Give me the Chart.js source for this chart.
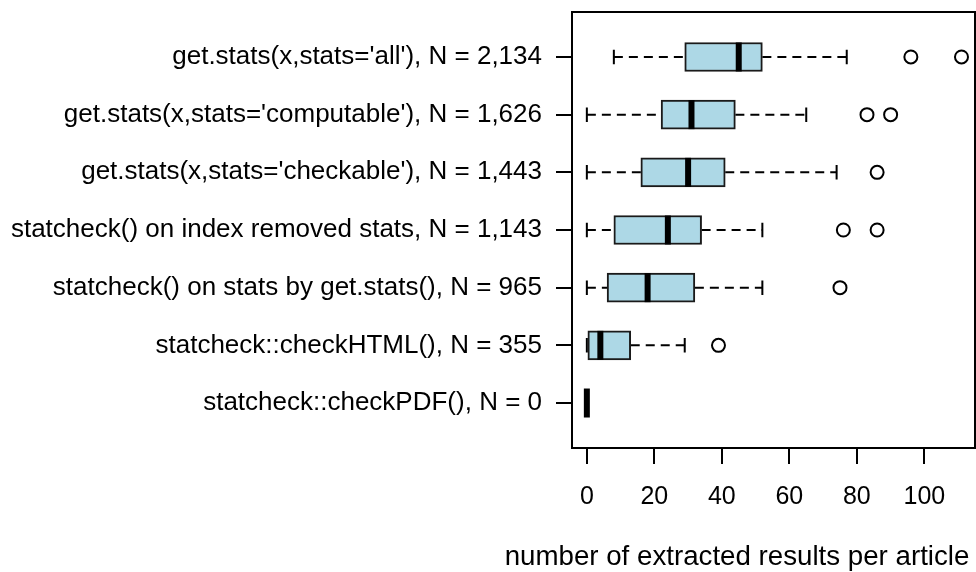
<!DOCTYPE html>
<html>
<head>
<meta charset="utf-8">
<script src="https://cdn.jsdelivr.net/npm/chart.js@4"></script>
<style>
  html, body { margin: 0; padding: 0; background: #fff; }
  #wrap { width: 976px; height: 572px; }
</style>
</head>
<body>
<div id="wrap"><canvas id="myChart" width="976" height="572"></canvas></div>
<script>
// rows, top to bottom
let labels = [
    "get.stats(x,stats='all'), N = 2,134",
    "get.stats(x,stats='computable'), N = 1,626",
    "get.stats(x,stats='checkable'), N = 1,443",
    "statcheck() on index removed stats, N = 1,143",
    "statcheck() on stats by get.stats(), N = 965",
    "statcheck::checkHTML(), N = 355",
    "statcheck::checkPDF(), N = 0"
];
let whiskerLow  = [8, 0, 0, 0, 0, 0, 0];
let q1          = [29, 22, 16, 8, 6, 0, 0];
let medians     = [45, 31, 30, 24, 18, 4, 0];
let q3          = [52, 44, 41, 34, 32, 13, 0];
let whiskerHigh = [77, 65, 74, 52, 52, 29, 0];
let outliers    = [[96, 111], [83, 90], [86], [76, 86], [75], [39], []];
let xTicks = [0, 20, 40, 60, 80, 100];
let xTitle = "number of extracted results per article";

let font = "'Liberation Sans', Arial, Helvetica, sans-serif";
let boxH = 29;

let boxes = labels.map((l, i) => ({ x: [q1[i], q3[i]], y: i + 1 }));
let outPts = [];
outliers.forEach((arr, i) => arr.forEach(v => outPts.push({ x: v, y: i + 1 })));

// whiskers + staples under the boxes, medians + frame + title on top
let boxplotBits = {
    id: "boxplotBits",
    beforeDatasetsDraw(chart) {
        let ctx = chart.ctx, xs = chart.scales.x, ys = chart.scales.y;
        ctx.save();
        ctx.strokeStyle = "#000";
        ctx.lineWidth = 2;
        labels.forEach((l, i) => {
            let y = ys.getPixelForValue(i + 1);
            ctx.setLineDash([9, 6]);
            ctx.beginPath();
            ctx.moveTo(xs.getPixelForValue(whiskerLow[i]), y);
            ctx.lineTo(xs.getPixelForValue(q1[i]), y);
            ctx.moveTo(xs.getPixelForValue(q3[i]), y);
            ctx.lineTo(xs.getPixelForValue(whiskerHigh[i]), y);
            ctx.stroke();
            ctx.setLineDash([]);
            ctx.beginPath();
            [whiskerLow[i], whiskerHigh[i]].forEach(v => {
                let x = xs.getPixelForValue(v);
                ctx.moveTo(x, y - boxH / 4);
                ctx.lineTo(x, y + boxH / 4);
            });
            ctx.stroke();
        });
        ctx.restore();
    },
    afterDatasetsDraw(chart) {
        let ctx = chart.ctx, xs = chart.scales.x, ys = chart.scales.y;
        ctx.save();
        ctx.strokeStyle = "#000";
        ctx.lineWidth = 6;
        ctx.lineCap = "butt";
        labels.forEach((l, i) => {
            let y = ys.getPixelForValue(i + 1);
            let x = xs.getPixelForValue(medians[i]);
            ctx.beginPath();
            ctx.moveTo(x, y - boxH / 2);
            ctx.lineTo(x, y + boxH / 2);
            ctx.stroke();
        });
        let a = chart.chartArea;
        ctx.lineWidth = 2;
        ctx.strokeRect(a.left, a.top, a.right - a.left, a.bottom - a.top);
        ctx.fillStyle = "#000";
        ctx.font = "27.7px " + font;
        ctx.textAlign = "center";
        ctx.textBaseline = "middle";
        ctx.fillText(xTitle, 737, 557);
        ctx.restore();
    }
};

let ctx = document.getElementById("myChart").getContext("2d");
let chart = new Chart(ctx, {
    type: "bar",
    data: {
        datasets: [{
            type: "bar",
            data: boxes,
            backgroundColor: "#ADD8E6",
            borderColor: "#1a1a1a",
            borderWidth: 2,
            borderSkipped: false,
            barThickness: boxH
        }, {
            type: "scatter",
            data: outPts,
            pointStyle: "circle",
            pointRadius: 6.5,
            pointBorderWidth: 2,
            pointBorderColor: "#000",
            pointBackgroundColor: "rgba(0,0,0,0)"
        }]
    },
    options: {
        indexAxis: "y",
        responsive: false,
        animation: false,
        layout: { autoPadding: false, padding: { top: 12, right: 1, left: 0, bottom: 0 } },
        plugins: { legend: { display: false }, tooltip: { enabled: false } },
        scales: {
            x: {
                type: "linear",
                offset: false,
                min: -4.4,
                max: 115,
                afterBuildTicks: (s) => { s.ticks = xTicks.map(v => ({ value: v })); },
                afterFit: (s) => { s.height = 124; s.paddingLeft = 0; s.paddingRight = 0; },
                grid: { offset: false, drawOnChartArea: false, drawTicks: true, tickLength: 16, color: "#000", lineWidth: 2 },
                border: { display: false },
                ticks: { color: "#000", padding: 18, maxRotation: 0, font: { family: font, size: 25 } }
            },
            y: {
                type: "linear",
                offset: false,
                reverse: true,
                min: 0.22,
                max: 7.78,
                afterBuildTicks: (s) => { s.ticks = labels.map((l, i) => ({ value: i + 1 })); },
                afterFit: (s) => { s.width = 572; s.paddingTop = 0; s.paddingBottom = 0; },
                grid: { offset: false, drawOnChartArea: false, drawTicks: true, tickLength: 16, color: "#000", lineWidth: 2 },
                border: { display: false },
                ticks: {
                    color: "#000",
                    padding: 14,
                    font: { family: font, size: 26 },
                    callback: (v) => labels[v - 1]
                }
            }
        }
    },
    plugins: [boxplotBits]
});
</script>
</body>
</html>
